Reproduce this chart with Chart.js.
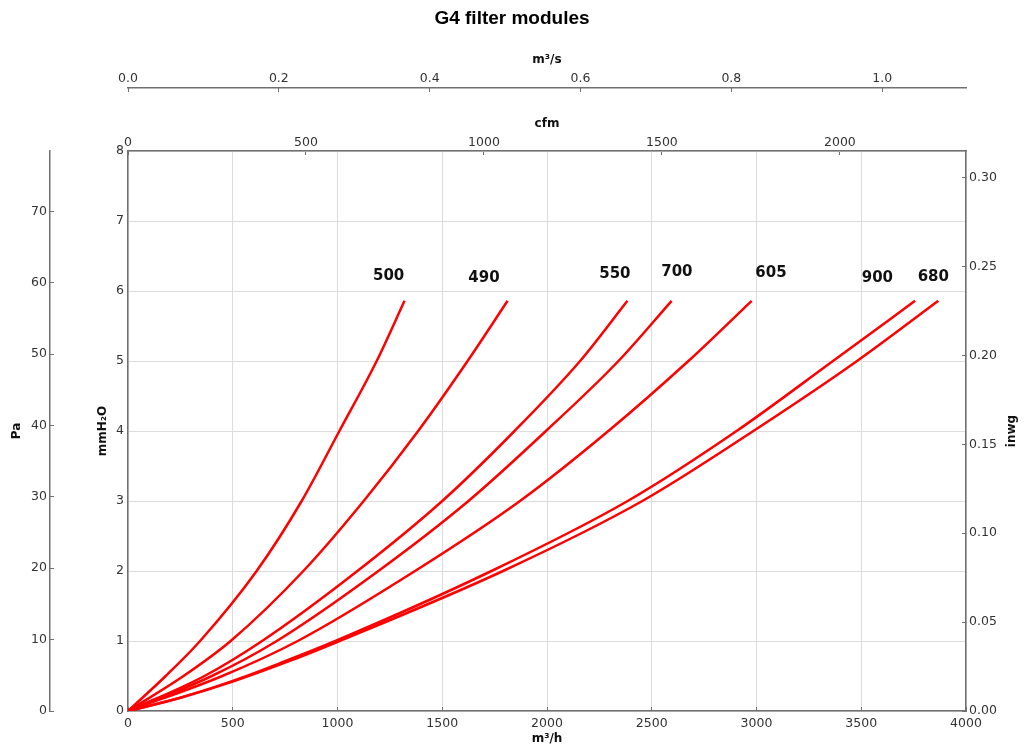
<!DOCTYPE html>
<html>
<head>
<meta charset="utf-8">
<title>G4 filter modules</title>
<script src="https://cdn.jsdelivr.net/npm/chart.js@4.4.1/dist/chart.umd.min.js"></script>
<style>
  html, body { margin: 0; padding: 0; background: #fff; }
  #wrap { position: relative; width: 1024px; height: 749px; }
</style>
</head>
<body>
<div id="wrap"><canvas id="chart"></canvas></div>
<script>
// filter module curves, airflow in m3/h vs pressure drop in mmH2O
const models = ['500', '490', '550', '700', '605', '900', '680'];

const q500 = [0, 180, 344, 614, 829, 1009, 1187, 1320];
const p500 = [0, 0.5, 1, 2, 3, 4, 5, 5.86];

const q490 = [0, 265, 490, 837, 1125, 1385, 1621, 1812];
const p490 = [0, 0.5, 1, 2, 3, 4, 5, 5.86];

const q550 = [0, 365, 640, 1095, 1500, 1845, 2158, 2384];
const p550 = [0, 0.5, 1, 2, 3, 4, 5, 5.86];

const q700 = [0, 400, 710, 1195, 1625, 1995, 2341, 2595];
const p700 = [0, 0.5, 1, 2, 3, 4, 5, 5.86];

const q605 = [0, 450, 810, 1370, 1871, 2293, 2675, 2977];
const p605 = [0, 0.5, 1, 2, 3, 4, 5, 5.86];

const q900 = [0, 250, 500, 740, 990, 1735, 2385, 2905, 3365, 3757];
const p900 = [0, 0.19, 0.43, 0.70, 1, 2, 3, 4, 5, 5.86];

const q680 = [0, 250, 500, 750, 1010, 1790, 2455, 2985, 3480, 3868];
const p680 = [0, 0.19, 0.42, 0.69, 1, 2, 3, 4, 5, 5.86];

// where the model names sit (m3/h, mmH2O)
const labelQ = [1244, 1699, 2324, 2620, 3069, 3577, 3844];
const labelP = [6.21, 6.19, 6.24, 6.27, 6.26, 6.19, 6.20];

// secondary axis tick labels
const cfmTicks = [0, 500, 1000, 1500, 2000];
const m3sTicks = [0, 0.2, 0.4, 0.6, 0.8, 1.0];
const paTicks = [0, 10, 20, 30, 40, 50, 60, 70];
const inwgTicks = [0, 0.05, 0.10, 0.15, 0.20, 0.25, 0.30];

const flows = [q500, q490, q550, q700, q605, q900, q680];
const drops = [p500, p490, p550, p700, p605, p900, p680];

const Q_MAX = 4000;      // m3/h
const P_MAX = 8;         // mmH2O
const PA_PER_MM = 9.80665;
const INWG_PER_MM = 1 / 25.4;
const CFM_PER_M3H = 1 / 1.69901;
const M3S_PER_M3H = 1 / 3600;

const tickFont = { family: 'DejaVu Sans', size: 12.5 };
const titleFont = { family: 'DejaVu Sans', size: 12, weight: 'bold' };
const tickColor = '#333';
const axisColor = '#707070';
const axisBorder = { color: axisColor, width: 1.5 };
const gridColor = '#dcdcdc';

const fixedTicks = values => scale => { scale.ticks = values.map(v => ({ value: v })); };

const datasets = models.map((m, i) => ({
  label: m,
  data: flows[i].map((q, j) => ({ x: q, y: drops[i][j] })),
  borderColor: '#ff0000',
  borderWidth: 2.5,
  pointRadius: 0,
  fill: false,
  cubicInterpolationMode: 'monotone',
  xAxisID: 'x',
  yAxisID: 'y'
}));

const curveLabels = {
  id: 'curveLabels',
  afterDatasetsDraw(chart) {
    const ctx = chart.ctx;
    const sx = chart.scales.x, sy = chart.scales.y;
    ctx.save();
    ctx.font = 'bold 15px "DejaVu Sans"';
    ctx.fillStyle = '#111';
    ctx.textAlign = 'center';
    ctx.textBaseline = 'middle';
    models.forEach((m, i) => {
      ctx.fillText(m, sx.getPixelForValue(labelQ[i]), sy.getPixelForValue(labelP[i]));
    });
    ctx.restore();
  }
};

// right-hand title reads bottom to top like the left ones
const inwgTitle = {
  id: 'inwgTitle',
  afterDraw(chart) {
    const s = chart.scales.inwg;
    const ctx = chart.ctx;
    ctx.save();
    ctx.translate(s.right - 12, (s.top + s.bottom) / 2);
    ctx.rotate(-Math.PI / 2);
    ctx.font = 'bold 12px "DejaVu Sans"';
    ctx.fillStyle = '#111';
    ctx.textAlign = 'center';
    ctx.textBaseline = 'middle';
    ctx.fillText('inwg', 0, 0);
    ctx.restore();
  }
};

new Chart(document.getElementById('chart'), {
  type: 'line',
  data: { datasets },
  plugins: [curveLabels, inwgTitle],
  options: {
    responsive: true,
    maintainAspectRatio: false,
    animation: false,
    layout: { padding: 0 },
    plugins: {
      legend: { display: false },
      tooltip: { enabled: false },
      title: {
        display: true,
        text: 'G4 filter modules',
        color: '#000',
        font: { family: 'Liberation Sans', size: 19, weight: 'bold' },
        padding: { top: 7, bottom: 8 }
      }
    },
    scales: {
      // negative tick lengths put the small tick marks inside, as in the original
      x: {
        type: 'linear', position: 'bottom', min: 0, max: Q_MAX,
        ticks: { stepSize: 500, padding: 9, font: tickFont, color: tickColor, maxRotation: 0,
                 callback: v => String(v) },
        grid: { color: gridColor, tickLength: -4, tickColor: axisColor },
        border: axisBorder,
        title: { display: true, text: 'm³/h', font: titleFont, color: '#111', padding: { top: 0, bottom: 3 } },
        afterFit(s) { s.height = 38; }
      },
      cfm: {
        type: 'linear', position: 'top', weight: 0, min: 0, max: Q_MAX * CFM_PER_M3H,
        afterBuildTicks: fixedTicks(cfmTicks),
        ticks: { padding: 5, font: tickFont, color: tickColor, maxRotation: 0, autoSkip: false,
                 callback: v => String(v) },
        grid: { drawOnChartArea: false, tickLength: -4, tickColor: axisColor },
        border: axisBorder,
        title: { display: true, text: 'cfm', font: titleFont, color: '#111', padding: { top: 29, bottom: 0 } },
        afterFit(s) { s.height = 63; }
      },
      m3s: {
        type: 'linear', position: 'top', weight: 1, min: 0, max: Q_MAX * M3S_PER_M3H,
        afterBuildTicks: fixedTicks(m3sTicks),
        ticks: { padding: 6, font: tickFont, color: tickColor, maxRotation: 0, autoSkip: false,
                 callback: v => v.toFixed(1) },
        grid: { drawOnChartArea: false, tickLength: -4, tickColor: axisColor },
        border: axisBorder,
        title: { display: true, text: 'm³/s', font: titleFont, color: '#111', padding: { top: 15, bottom: 0 } },
        afterFit(s) { s.height = 50.2; }
      },
      y: {
        type: 'linear', position: 'left', weight: 0, min: 0, max: P_MAX,
        ticks: { stepSize: 1, padding: 4, font: tickFont, color: tickColor },
        grid: { color: gridColor, drawTicks: false },
        border: axisBorder,
        title: { display: true, text: 'mmH₂O', font: titleFont, color: '#111', padding: { top: 46, bottom: 0 } },
        afterFit(s) { s.width = 78; }
      },
      pa: {
        type: 'linear', position: 'left', weight: 1, min: 0, max: P_MAX * PA_PER_MM,
        afterBuildTicks: fixedTicks(paTicks),
        ticks: { padding: 7, font: tickFont, color: tickColor, autoSkip: false },
        grid: { drawOnChartArea: false, tickLength: -4, tickColor: axisColor },
        border: axisBorder,
        title: { display: true, text: 'Pa', font: titleFont, color: '#111', padding: { top: 10, bottom: 0 } },
        afterFit(s) { s.width = 50; }
      },
      inwg: {
        type: 'linear', position: 'right', min: 0, max: P_MAX * INWG_PER_MM,
        afterBuildTicks: fixedTicks(inwgTicks),
        ticks: { padding: 7, font: tickFont, color: tickColor, autoSkip: false,
                 callback: v => v.toFixed(2) },
        grid: { drawOnChartArea: false, tickLength: -4, tickColor: axisColor },
        border: axisBorder,
        title: { display: false },
        afterFit(s) { s.width = 58; }
      }
    }
  }
});
</script>
</body>
</html>
